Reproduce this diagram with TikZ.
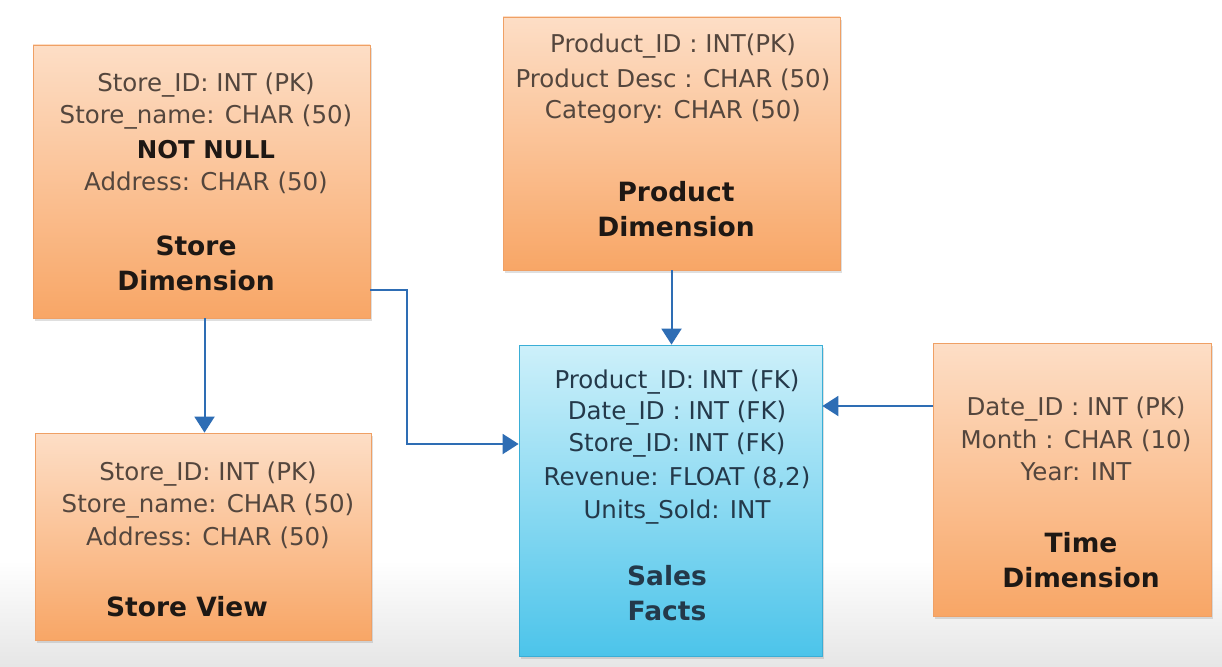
\documentclass[tikz,border=0pt]{standalone}
\usepackage{fontspec}
\setmainfont{DejaVu Sans}
\usetikzlibrary{arrows.meta,shadows}
\definecolor{orTop}{HTML}{FDDEC6}
\definecolor{orBot}{HTML}{F8A666}
\definecolor{orLine}{HTML}{EFA065}
\definecolor{blTop}{HTML}{CDF0FA}
\definecolor{blBot}{HTML}{4CC4EA}
\definecolor{blLine}{HTML}{3AAED6}
\definecolor{arrCol}{HTML}{2E6DB4}
\definecolor{fieldCol}{HTML}{54463D}
\definecolor{factCol}{HTML}{24394A}
\definecolor{titleCol}{HTML}{1E1814}
\definecolor{bgGray}{HTML}{E6E6E6}
\tikzset{
  dimbox/.style={rectangle, draw=orLine, line width=0.8pt, top color=orTop, bottom color=orBot,
    drop shadow={opacity=0.25, shadow xshift=2pt, shadow yshift=-3pt}, inner sep=0pt},
  factbox/.style={rectangle, draw=blLine, line width=0.8pt, top color=blTop, bottom color=blBot,
    drop shadow={opacity=0.25, shadow xshift=2pt, shadow yshift=-3pt}, inner sep=0pt},
  field/.style={font=\fontsize{24.5}{33}\selectfont, text=fieldCol, inner sep=0pt},
  ffield/.style={font=\fontsize{24.5}{33}\selectfont, text=factCol, inner sep=0pt},
  title/.style={font=\fontsize{26.5}{35}\selectfont\bfseries, text=titleCol, inner sep=0pt},
  arr/.style={draw=arrCol, line width=2pt, -{Triangle[width=20pt,length=16pt]}},
}
\begin{document}
\begin{tikzpicture}[x=1pt,y=-1pt]
\useasboundingbox (0,0) rectangle (1222,666);
\fill[white] (0,0) rectangle (1222,666);
\shade[top color=white, bottom color=bgGray] (0,560) rectangle (1222,666);

% boxes
\node[dimbox, minimum width=337pt, minimum height=273pt] (sd) at (201.5,181.5) {};
\node[dimbox, minimum width=337pt, minimum height=253pt] (pd) at (671.5,143.5) {};
\node[factbox, minimum width=303pt, minimum height=311pt] (sf) at (670.5,500.5) {};
\node[dimbox, minimum width=278pt, minimum height=273pt] (td) at (1072,479.5) {};
\node[dimbox, minimum width=336pt, minimum height=207pt] (sv) at (203,536.5) {};

% Store Dimension text
\node[field] (sd1) at (206,85) {Store\_ID: INT (PK)};
\node[field] (sd2) at (206,117) {Store\_name: CHAR (50)};
\node[field, font=\fontsize{24.5}{33}\selectfont\bfseries, text=titleCol] (sd3) at (206,150) {NOT NULL};
\node[field] (sd4) at (206,183) {Address: CHAR (50)};
\node[title] (sdt1) at (196,246) {Store};
\node[title] (sdt2) at (196,281) {Dimension};

% Product Dimension text
\node[field] (pd1) at (673,46) {Product\_ID : INT(PK)};
\node[field] (pd2) at (673,80) {Product Desc : CHAR (50)};
\node[field] (pd3) at (673,112) {Category: CHAR (50)};
\node[title] (pdt1) at (676,192) {Product};
\node[title] (pdt2) at (676,227) {Dimension};

% Sales Facts text
\node[ffield] (sf1) at (677,382) {Product\_ID: INT (FK)};
\node[ffield] (sf2) at (677,413) {Date\_ID : INT (FK)};
\node[ffield] (sf3) at (677,445) {Store\_ID: INT (FK)};
\node[ffield] (sf4) at (677,478) {Revenue: FLOAT (8,2)};
\node[ffield] (sf5) at (677,512) {Units\_Sold: INT};
\node[title, text=factCol] (sft1) at (667,576) {Sales};
\node[title, text=factCol] (sft2) at (667,611) {Facts};

% Time Dimension text
\node[field] (td1) at (1076,409) {Date\_ID : INT (PK)};
\node[field] (td2) at (1076,441) {Month : CHAR (10)};
\node[field] (td3) at (1076,472) {Year: INT};
\node[title] (tdt1) at (1081,543) {Time};
\node[title] (tdt2) at (1081,578) {Dimension};

% Store View text
\node[field] (sv1) at (208,474) {Store\_ID: INT (PK)};
\node[field] (sv2) at (208,506) {Store\_name: CHAR (50)};
\node[field] (sv3) at (208,538) {Address: CHAR (50)};
\node[title] (svt) at (187,607) {Store View};

% connectors
\coordinate (sdOut) at ([yshift=28pt]sd.south east);
\coordinate (bend) at (407,444);
\coordinate (tdOut) at ([yshift=73.5pt]td.west);
\draw[arr] ([xshift=3pt]sd.south) -- ([xshift=3pt]sd.south |- sv.north);
\draw[arr] (sdOut) -| (bend) -- (sf.west |- bend);
\draw[arr] (pd.south) -- (pd.south |- sf.north);
\draw[arr] (tdOut) -- (sf.east |- tdOut);
\end{tikzpicture}
\end{document}
